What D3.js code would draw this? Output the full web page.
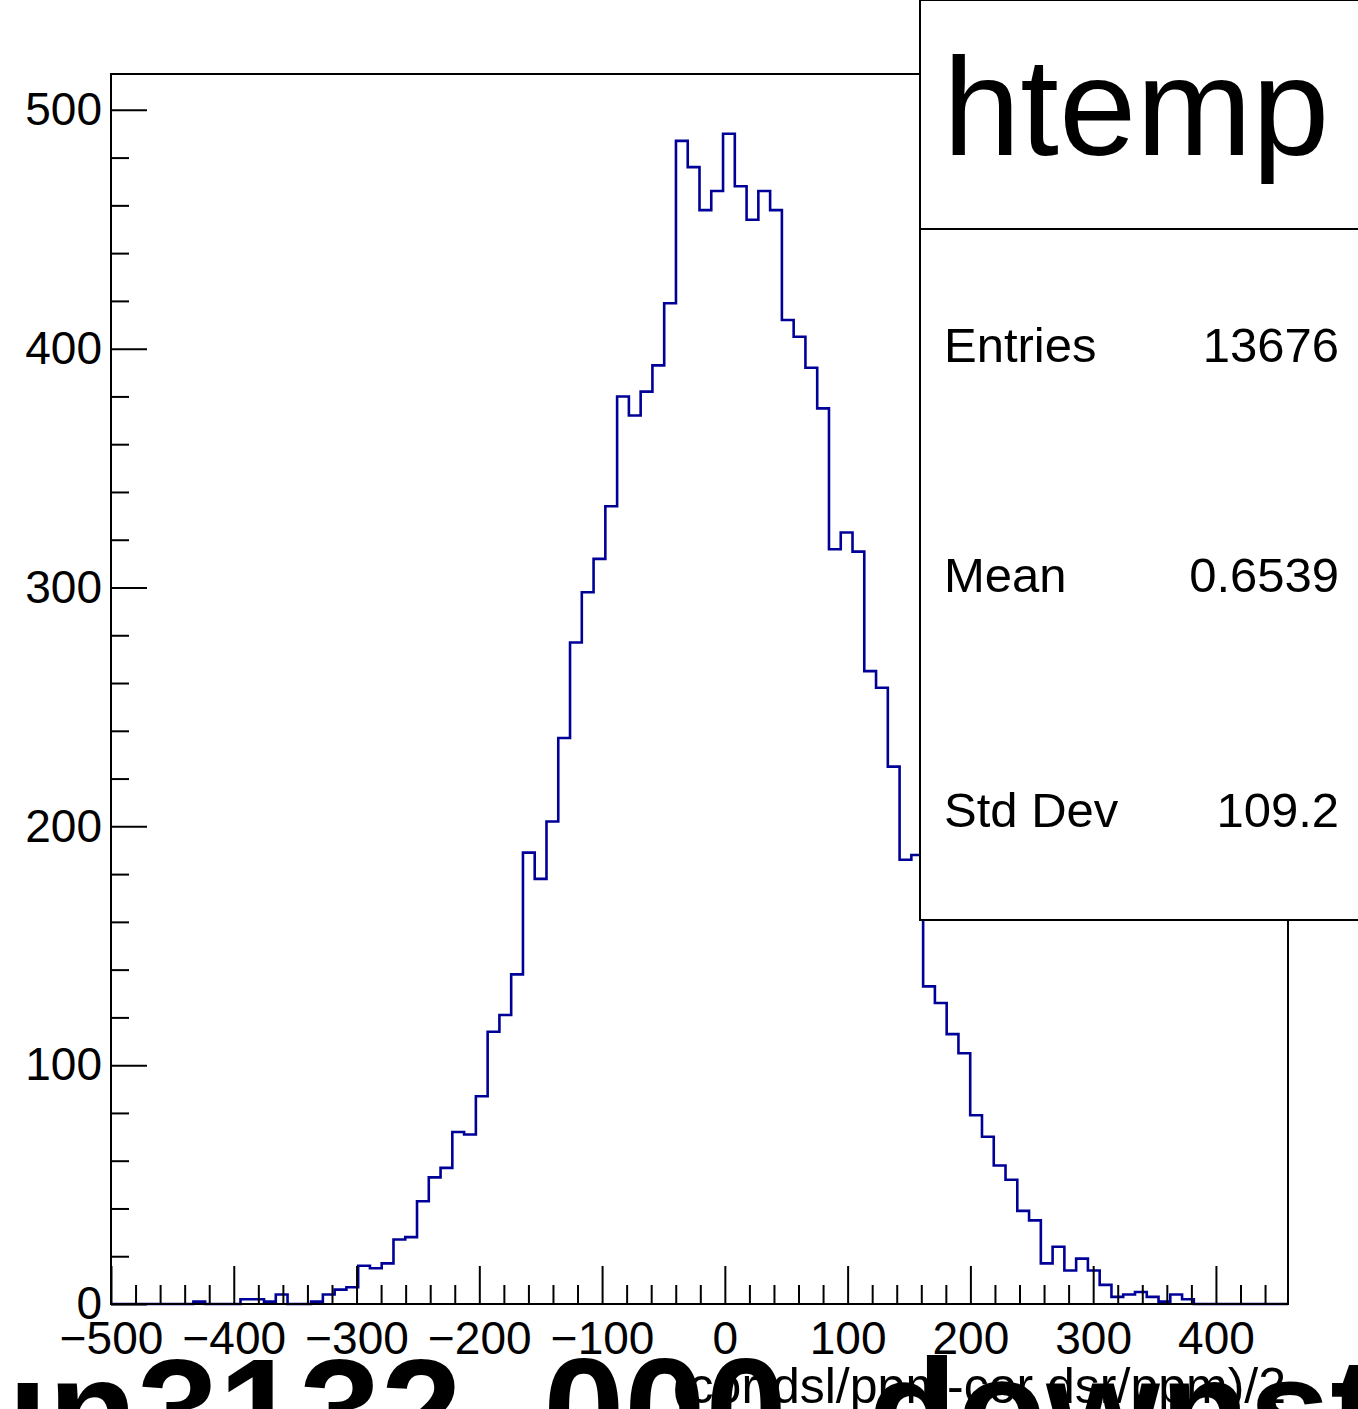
<!DOCTYPE html>
<html>
<head>
<meta charset="utf-8">
<script src="https://cdn.jsdelivr.net/npm/d3@7"></script>
<style>
  html, body { margin: 0; padding: 0; background: #fff; }
  svg { display: block; }
  text { font-family: "Liberation Sans", Arial, Helvetica, sans-serif; fill: #000; }
</style>
</head>
<body>
<svg id="chart"></svg>
<script>
// histogram contents, 100 bins from xMin to xMax
const binCounts = [
  0, 0, 0, 0, 0, 0, 0, 1, 0, 0,
  0, 2, 2, 1, 4, 0, 0, 1, 4, 6,
  7, 16, 15, 17, 27, 28, 43, 53, 57, 72,
  71, 87, 114, 121, 138, 189, 178, 202, 237, 277,
  298, 312, 334, 380, 372, 382, 393, 419, 487, 476,
  458, 466, 490, 468, 454, 466, 458, 412, 405, 392,
  375, 316, 323, 315, 265, 258, 225, 186, 188, 133,
  126, 113, 105, 79, 70, 58, 52, 39, 35, 17,
  24, 14, 19, 14, 8, 3, 4, 5, 3, 1,
  4, 2, 0, 0, 0, 0, 0, 0, 0, 0
];
const xMin = -500;
const xMax = 458.7;
const yMax = 515;

const xMajorTicks = [-500, -400, -300, -200, -100, 0, 100, 200, 300, 400];
const yMajorTicks = [0, 100, 200, 300, 400, 500];

const histName = 'htemp';
const statLabels = ['Entries', 'Mean', 'Std Dev'];
const statValues = ['13676', '0.6539', '109.2'];
const xTitle = '(cor dsl/ppm-cor dsr/ppm)/2';
const bigTitle = 'run3132_000_downstream';

const W = 1358;
const H = 1409;
const frame = { left: 111, top: 74, right: 1288, bottom: 1304 };
const lineColor = '#000099';

const svg = d3.select('#chart')
  .attr('width', W)
  .attr('height', H);

svg.append('rect')
  .attr('width', W)
  .attr('height', H)
  .attr('fill', '#fff');

const x = d3.scaleLinear()
  .domain([xMin, xMax])
  .range([frame.left, frame.right]);

const y = d3.scaleLinear()
  .domain([0, yMax])
  .range([frame.bottom, frame.top]);

const binWidth = (xMax - xMin) / binCounts.length;
const steps = binCounts.map((c, i) => [xMin + i * binWidth, c]);
steps.push([xMax, binCounts[binCounts.length - 1]]);

const line = d3.line()
  .x(d => x(d[0]))
  .y(d => y(d[1]))
  .curve(d3.curveStepAfter);

svg.append('path')
  .datum(steps)
  .attr('d', line)
  .attr('fill', 'none')
  .attr('stroke', lineColor)
  .attr('stroke-width', 2.6);

// minor ticks every 20 units, majors every 100
const xMinor = d3.range(-500, xMax, 20).filter(v => v % 100 !== 0);
const yMinor = d3.range(0, 501, 20).filter(v => v % 100 !== 0);

const axisFont = 46;

const gx = svg.append('g')
  .attr('transform', `translate(0,${frame.bottom})`);

gx.append('g')
  .call(d3.axisBottom(x).tickValues(xMinor).tickSizeInner(-19).tickSizeOuter(0).tickFormat(''));

gx.append('g')
  .call(d3.axisBottom(x).tickValues(xMajorTicks).tickSizeInner(-38).tickSizeOuter(0).tickPadding(17));

const gy = svg.append('g')
  .attr('transform', `translate(${frame.left},0)`);

gy.append('g')
  .call(d3.axisLeft(y).tickValues(yMinor).tickSizeInner(-18).tickSizeOuter(0).tickFormat(''));

gy.append('g')
  .call(d3.axisLeft(y).tickValues(yMajorTicks).tickSizeInner(-36).tickSizeOuter(0).tickPadding(9));

svg.selectAll('.domain').remove();
svg.selectAll('.tick line')
  .attr('stroke', '#000')
  .attr('stroke-width', 2);
svg.selectAll('.tick text')
  .style('font-size', `${axisFont}px`)
  .style('font-family', '"Liberation Sans", Arial, sans-serif')
  .attr('fill', '#000');

// frame
svg.append('rect')
  .attr('x', frame.left)
  .attr('y', frame.top)
  .attr('width', frame.right - frame.left)
  .attr('height', frame.bottom - frame.top)
  .attr('fill', 'none')
  .attr('stroke', '#000')
  .attr('stroke-width', 2);

// stats box
const box = { left: 920, top: 0, bottom: 920, split: 229 };

svg.append('rect')
  .attr('x', box.left)
  .attr('y', box.top)
  .attr('width', W - box.left + 10)
  .attr('height', box.bottom - box.top)
  .attr('fill', '#fff')
  .attr('stroke', '#000')
  .attr('stroke-width', 2);

svg.append('line')
  .attr('x1', box.left)
  .attr('x2', W + 5)
  .attr('y1', box.split)
  .attr('y2', box.split)
  .attr('stroke', '#000')
  .attr('stroke-width', 2);

svg.append('text')
  .attr('x', 943)
  .attr('y', 155)
  .style('font-size', '139px')
  .text(histName);

const statBase = [362, 592, 827];

svg.append('g').selectAll('text.lab')
  .data(statLabels)
  .join('text')
    .attr('class', 'lab')
    .attr('x', 944)
    .attr('y', (d, i) => statBase[i])
    .style('font-size', '49px')
    .text(d => d);

svg.append('g').selectAll('text.val')
  .data(statValues)
  .join('text')
    .attr('class', 'val')
    .attr('x', 1339)
    .attr('y', (d, i) => statBase[i])
    .attr('text-anchor', 'end')
    .style('font-size', '49px')
    .text(d => d);

// x axis title
svg.append('text')
  .attr('x', frame.right - 2)
  .attr('y', 1403)
  .attr('text-anchor', 'end')
  .style('font-size', '50px')
  .text(xTitle);

// oversized pad title spilling in from below
svg.append('text')
  .attr('x', -98)
  .attr('y', 1461)
  .style('font-size', '146px')
  .style('font-weight', 'bold')
  .text(bigTitle);
</script>
</body>
</html>
